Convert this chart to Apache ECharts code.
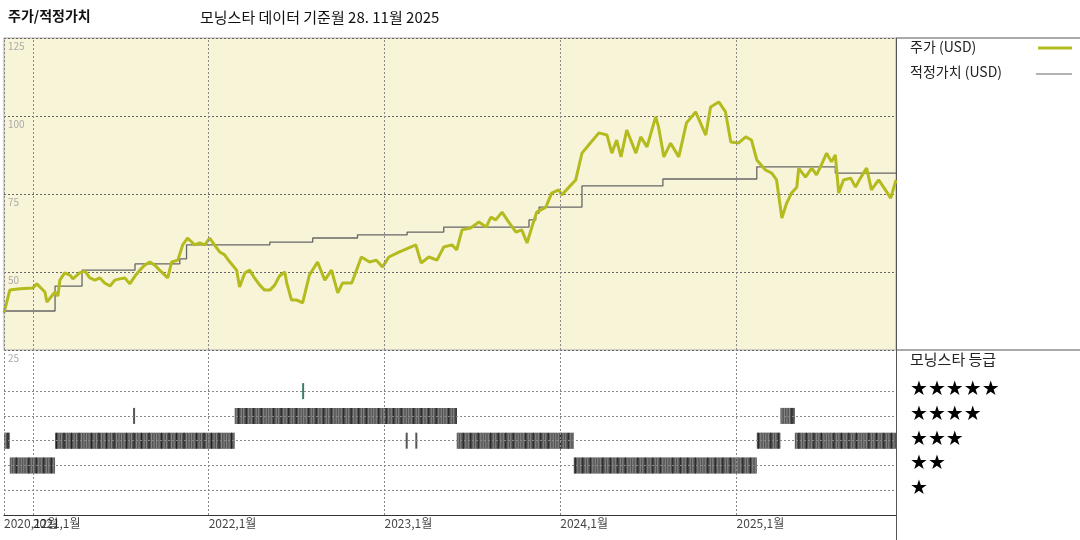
<!DOCTYPE html>
<html>
<head>
<meta charset="utf-8">
<script src="https://cdn.jsdelivr.net/npm/echarts@6/dist/echarts.min.js"></script>
<style>
html,body{margin:0;padding:0;background:#fff;}
#main{width:1080px;height:540px;}
</style>
</head>
<body>
<div id="main"></div>
<script>
// 주가 (USD)
var priceDates = ['2020-11-02','2020-11-14','2020-12-05','2021-01-01','2021-01-09','2021-01-26','2021-01-30','2021-02-16','2021-02-22','2021-02-26',
	'2021-03-08','2021-03-19','2021-03-25','2021-04-08','2021-04-19','2021-04-29','2021-05-10','2021-05-20','2021-05-30','2021-06-10',
	'2021-06-20','2021-06-30','2021-07-11','2021-07-21','2021-08-01','2021-08-11','2021-08-21','2021-09-01','2021-09-11','2021-09-21',
	'2021-10-08','2021-10-16','2021-10-29','2021-11-08','2021-11-18','2021-12-03','2021-12-13','2021-12-24','2022-01-03','2022-01-13',
	'2022-01-24','2022-02-03','2022-02-14','2022-02-28','2022-03-06','2022-03-17','2022-03-27','2022-04-06','2022-04-17','2022-04-27',
	'2022-05-08','2022-05-18','2022-05-28','2022-06-08','2022-06-12','2022-06-22','2022-07-03','2022-07-15','2022-07-29','2022-08-15',
	'2022-08-30','2022-09-13','2022-09-26','2022-10-06','2022-10-25','2022-11-14','2022-12-01','2022-12-15','2022-12-28','2023-01-10',
	'2023-01-31','2023-03-07','2023-03-18','2023-04-03','2023-04-20','2023-05-04','2023-05-21','2023-05-31','2023-06-11','2023-06-29',
	'2023-07-16','2023-07-31','2023-08-10','2023-08-20','2023-09-02','2023-09-16','2023-10-01','2023-10-13','2023-10-24','2023-11-03',
	'2023-11-13','2023-12-02','2023-12-14','2023-12-29','2024-01-04','2024-01-19','2024-02-02','2024-02-15','2024-02-29','2024-03-21',
	'2024-04-07','2024-04-17','2024-04-27','2024-05-06','2024-05-18','2024-06-06','2024-06-16','2024-06-29','2024-07-17','2024-07-23',
	'2024-08-03','2024-08-17','2024-09-03','2024-09-19','2024-10-08','2024-10-29','2024-11-08','2024-11-25','2024-12-09','2024-12-20',
	'2025-01-05','2025-01-20','2025-02-01','2025-02-12','2025-03-02','2025-03-15','2025-03-25','2025-04-05','2025-04-15','2025-04-25',
	'2025-05-06','2025-05-10','2025-05-24','2025-06-06','2025-06-16','2025-06-26','2025-07-07','2025-07-17','2025-07-25','2025-08-01',
	'2025-08-11','2025-08-26','2025-09-05','2025-09-15','2025-09-28','2025-10-08','2025-10-23','2025-11-06','2025-11-17','2025-11-28'];
var priceValues = [36.9,44.2,44.6,44.9,46.2,43.6,40.4,43.6,42.3,47.4,
	49.7,49.0,47.8,49.7,50.3,48.1,47.4,48.1,46.5,45.5,
	47.4,47.8,48.1,46.2,48.7,50.6,52.2,53.2,52.2,50.6,
	48.1,53.2,53.8,58.7,60.9,58.7,59.3,58.7,60.9,58.7,
	56.4,55.5,53.2,50.6,45.2,49.7,50.6,48.1,45.8,44.2,
	44.2,45.8,48.7,50.0,46.5,41.0,41.0,40.1,49.0,53.2,
	47.4,50.6,43.3,46.5,46.5,54.8,53.2,53.8,51.6,54.8,
	56.4,58.7,52.9,54.8,53.8,58.0,58.7,57.1,63.5,64.1,
	66.0,64.4,67.6,66.7,69.2,66.0,62.8,63.5,59.3,64.4,
	69.2,70.8,75.3,76.3,74.7,77.2,79.5,88.1,90.7,94.6,
	93.9,88.1,92.3,86.9,95.5,88.1,93.3,90.1,99.7,96.5,
	86.9,91.3,86.9,97.8,101.3,93.9,102.9,104.5,101.3,91.7,
	91.3,93.3,92.3,85.9,82.7,81.7,79.5,67.3,72.1,75.3,
	77.2,83.3,80.4,83.3,81.1,84.3,88.1,85.3,87.5,75.3,
	79.5,80.1,77.2,80.1,83.3,76.3,79.5,76.3,73.7,79.5];

// 적정가치 (USD)
var fairDates = ['2020-11-02','2021-02-16','2021-04-13','2021-08-01','2021-11-02','2021-11-16','2022-05-08','2022-08-05','2022-11-06',
	'2023-02-17','2023-05-04','2023-10-28','2023-11-11','2023-11-18','2024-02-15','2024-08-01','2025-02-12','2025-07-25','2025-11-28'];
var fairValues = [37.5,45.5,50.6,52.6,54.2,58.7,59.6,60.9,61.9,62.8,64.4,66.7,68.9,70.8,77.6,79.8,83.7,81.7,81.7];

// 모닝스타 등급 구간
var ratingStart = ['2020-11-02','2020-11-14','2021-02-16','2021-07-28','2022-02-24','2022-07-14','2023-02-14','2023-03-06','2023-05-31','2024-01-29','2025-02-12','2025-04-02','2025-05-02'];
var ratingEnd   = ['2020-11-14','2021-02-16','2022-02-24','2021-07-30','2023-05-31','2022-07-16','2023-02-16','2023-03-08','2024-01-29','2025-02-12','2025-04-02','2025-05-02','2025-11-28'];
var ratingStars = [3,2,3,4,4,5,3,3,3,2,3,4,3];

var xMin = '2020-11-02', xMax = '2025-11-28';
var yearTicks = ['2021-01-01','2022-01-01','2023-01-01','2024-01-01','2025-01-01'];
var xTickLabels = ['2020,12월','2021,1월','2022,1월','2023,1월','2024,1월','2025,1월'];
var starRows = ['★★★★★','★★★★','★★★','★★','★'];

var myChart = echarts.init(document.getElementById('main'));

var gridL = 4, gridW = 892;
var tickDates = [xMin].concat(yearTicks);
var vLineData = tickDates.map(function(d) { return {xAxis: d}; });

function renderRating(params, api) {
	var s = api.coord([api.value(0), api.value(2)]);
	var e = api.coord([api.value(1), api.value(2)]);
	var w = Math.max(e[0] - s[0], 2);
	var h = 16;
	var stars = api.value(2);
	var base = stars === 5 ? '#3b7d6b' : '#555';
	var children = [{type: 'rect', shape: {x: s[0], y: s[1] - h / 2, width: w, height: h}, style: {fill: base}}];
	if (w > 3) {
		for (var x = s[0] + 1; x < s[0] + w - 1; x += 2.5) {
			children.push({type: 'rect', shape: {x: x, y: s[1] - h / 2, width: 1, height: h},
				style: {fill: ((x | 0) % 7 < 2) ? '#222' : '#8a8a8a'}});
		}
	}
	return {type: 'group', children: children};
}

var option = {
	animation: false,
	textStyle: {fontFamily: 'Noto Sans CJK KR'},
	grid: [
		{left: gridL, top: 38, width: gridW, height: 312, show: true, backgroundColor: '#f8f4d8', borderColor: '#aaa', borderWidth: 1},
		{left: gridL, top: 350, width: gridW, height: 165, show: false}
	],
	xAxis: [
		{type: 'time', gridIndex: 0, min: xMin, max: xMax, axisLine: {show: false}, axisTick: {show: false},
			axisLabel: {show: false}, splitLine: {show: false}},
		{type: 'time', gridIndex: 1, min: xMin, max: xMax,
			axisLine: {show: true, lineStyle: {color: '#333'}}, axisTick: {show: false}, splitLine: {show: false},
			axisLabel: {show: false}}
	],
	yAxis: [
		{type: 'value', gridIndex: 0, min: 25, max: 125, interval: 25,
			axisLine: {show: false}, axisTick: {show: false},
			splitLine: {lineStyle: {color: '#666', type: [2, 2]}},
			axisLabel: {inside: true, verticalAlign: 'top', margin: 0, padding: [3, 0, 0, 4], fontSize: 10, color: '#aaa'}},
		{type: 'value', gridIndex: 1, min: 0, max: 6.66,
			axisLine: {show: false}, axisTick: {show: false}, splitLine: {show: false},
			axisLabel: {show: false}}
	],
	series: [
		{name: '적정가치 (USD)', type: 'line', xAxisIndex: 0, yAxisIndex: 0, step: 'end', symbol: 'none',
			lineStyle: {color: '#666', width: 1.3},
			data: fairDates.map(function(d, i) { return [d, fairValues[i]]; }),
			markLine: {silent: true, symbol: 'none', label: {show: false},
				lineStyle: {color: '#888', type: [2, 2], width: 1}, data: vLineData}},
		{name: '주가 (USD)', type: 'line', xAxisIndex: 0, yAxisIndex: 0, symbol: 'none',
			lineStyle: {color: '#b3bb1e', width: 3},
			data: priceDates.map(function(d, i) { return [d, priceValues[i]]; })},
		{name: '등급', type: 'custom', xAxisIndex: 1, yAxisIndex: 1, renderItem: renderRating,
			encode: {x: [0, 1], y: 2},
			data: ratingStart.map(function(d, i) { return [+new Date(d), +new Date(ratingEnd[i]), ratingStars[i]]; }),
			markLine: {silent: true, symbol: 'none', label: {show: false},
				lineStyle: {color: '#888', type: [2, 2], width: 1},
				data: [1, 2, 3, 4, 5].map(function(v) { return {yAxis: v}; }).concat(vLineData)}},
		{name: 'xlabels', type: 'scatter', xAxisIndex: 1, yAxisIndex: 1, symbolSize: 1, clip: false, silent: true,
			itemStyle: {color: 'rgba(0,0,0,0)'},
			label: {show: true, position: 'bottom', distance: 2, align: 'left', fontSize: 12, color: '#111',
				formatter: function(p) { return xTickLabels[p.dataIndex]; }},
			data: tickDates.map(function(d) { return [d, 0]; })}
	],
	graphic: [
		{type: 'text', left: 8, top: 9, style: {text: '주가/적정가치', fontSize: 14, fontWeight: 'bold', fill: '#111', fontFamily: 'Noto Sans CJK KR'}},
		{type: 'text', left: 200, top: 10, style: {text: '모닝스타 데이터 기준월 28. 11월 2025', fontSize: 15, fill: '#111', fontFamily: 'Noto Sans CJK KR'}},
		{type: 'line', shape: {x1: 896, y1: 38, x2: 1080, y2: 38}, style: {stroke: '#555', lineWidth: 1}},
		{type: 'line', shape: {x1: 896, y1: 350, x2: 1080, y2: 350}, style: {stroke: '#555', lineWidth: 1}},
		{type: 'line', shape: {x1: 896.5, y1: 38, x2: 896.5, y2: 540}, style: {stroke: '#555', lineWidth: 1}},
		{type: 'text', left: 910, top: 40, style: {text: '주가 (USD)', fontSize: 14, fill: '#222', fontFamily: 'Noto Sans CJK KR'}},
		{type: 'line', shape: {x1: 1038, y1: 48, x2: 1072, y2: 48}, style: {stroke: '#b3bb1e', lineWidth: 3}},
		{type: 'text', left: 910, top: 65, style: {text: '적정가치 (USD)', fontSize: 14, fill: '#222', fontFamily: 'Noto Sans CJK KR'}},
		{type: 'line', shape: {x1: 1036, y1: 74, x2: 1072, y2: 74}, style: {stroke: '#666', lineWidth: 1}},
		{type: 'text', left: 910, top: 352, style: {text: '모닝스타 등급', fontSize: 15, fill: '#222', fontFamily: 'Noto Sans CJK KR'}}
	].concat(starRows.map(function(s, i) {
		return {type: 'text', left: 910, top: 380 + i * 24.7, style: {text: s, fontSize: 20, fill: '#000', fontFamily: 'DejaVu Sans'}};
	}))
};

myChart.setOption(option);
</script>
</body>
</html>
